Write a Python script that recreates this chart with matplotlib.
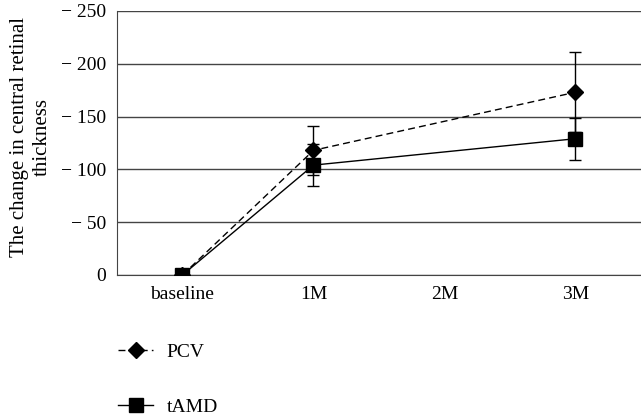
import numpy as np
import matplotlib.pyplot as plt
from matplotlib.lines import Line2D

plt.rcParams['font.family'] = ['Liberation Serif', 'DejaVu Serif']

categories = ['baseline', '1M', '2M', '3M']
pcv_x = [0, 1, 3]
pcv_y = [0, -118, -173]
pcv_err = [0, 23, 38]
tamd_x = [0, 1, 3]
tamd_y = [0, -104, -129]
tamd_err = [0, 20, 20]
yticks = [0, -50, -100, -150, -200, -250]

fig = plt.figure(figsize=(6.41, 4.19), dpi=100)
ax = fig.add_axes([0.1825, 0.3437, 0.8175, 0.6303])

ax.errorbar(pcv_x, pcv_y, yerr=pcv_err, color='black', ls=(0, (5, 3)), lw=1,
            marker='D', ms=8, capsize=4, elinewidth=1, capthick=1, zorder=3)
ax.errorbar(tamd_x, tamd_y, yerr=tamd_err, color='black', ls='-', lw=1,
            marker='s', ms=10, capsize=4, elinewidth=1, capthick=1, zorder=3)

ax.set_xlim(-0.5, 3.5)
ax.set_ylim(0, -250)
ax.set_xticks(range(len(categories)))
ax.set_xticklabels(categories, fontsize=14)
ax.set_yticks(yticks)
ax.set_yticklabels(['0' if v == 0 else '\u2212 %d' % -v for v in yticks], fontsize=14)
ax.tick_params(length=0, pad=8)
ax.grid(axis='y', color='#444444', lw=1)
ax.set_axisbelow(True)
for s in ['top', 'right']:
    ax.spines[s].set_visible(False)
ax.spines['left'].set_color('#444444')
ax.spines['bottom'].set_color('#444444')

# y label sits well left of the tick labels
fig.text(31 / 641, 0.673, 'The change in central retinal\nthickness', fontsize=15,
         rotation=90, ha='center', va='center', multialignment='center', linespacing=1.3)

handles = [
    Line2D([], [], color='black', ls=(0, (5, 3)), lw=1, marker='D', ms=8),
    Line2D([], [], color='black', ls='-', lw=1, marker='s', ms=10),
]
fig.legend(handles, ['PCV', 'tAMD'], loc='upper left', bbox_to_anchor=(0.157, 0.222),
           frameon=False, fontsize=14, labelspacing=1.9, handlelength=1.8, handletextpad=0.7)

fig.savefig('out.png', dpi=100)
